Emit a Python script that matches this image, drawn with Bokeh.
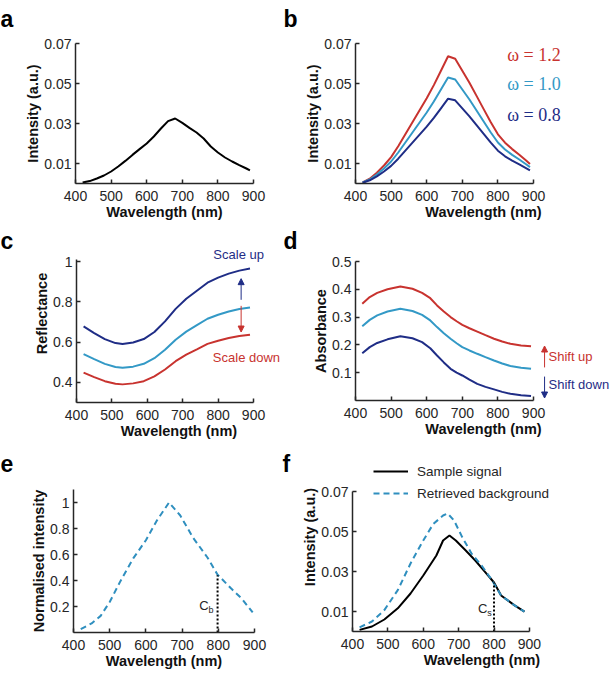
from bokeh.plotting import figure
from bokeh.layouts import column, row
from bokeh.models import FixedTicker, Label, Arrow, NormalHead, Legend, LegendItem, Range1d
from bokeh.embed import file_html
from bokeh.resources import INLINE

# ---------------- data ----------------
x_ticks = [400, 500, 600, 700, 800, 900]
int_ticks = [0.01, 0.03, 0.05, 0.07]
int_labels = ["0.01", "0.03", "0.05", "0.07"]
refl_ticks = [0.4, 0.6, 0.8, 1.0]
refl_labels = ["0.4", "0.6", "0.8", "1"]
abs_ticks = [0.1, 0.2, 0.3, 0.4, 0.5]
abs_labels = ["0.1", "0.2", "0.3", "0.4", "0.5"]
norm_ticks = [0.2, 0.4, 0.6, 0.8, 1.0]
norm_labels = ["0.2", "0.4", "0.6", "0.8", "1"]
panel_letters = ["a", "b", "c", "d", "e", "f"]

# (a) single intensity spectrum
wl_a = [420, 440, 460, 480, 500, 520, 540, 560, 580, 600, 620, 640, 660, 680,
        700, 720, 740, 760, 780, 800, 820, 840, 860, 880, 890]
int_a = [0.0005, 0.0012, 0.0025, 0.0040, 0.0060, 0.0085, 0.0113, 0.0143, 0.0172,
         0.0200, 0.0235, 0.0275, 0.0312, 0.0325, 0.0303, 0.0278, 0.0255, 0.0225,
         0.0185, 0.0155, 0.0130, 0.0110, 0.0092, 0.0075, 0.0066]

# (b) spectra for three omega values
wl_b = [420, 440, 460, 480, 500, 520, 540, 560, 580, 600, 620, 640, 660, 680,
        700, 720, 740, 760, 780, 800, 820, 840, 860, 880, 890]
int_w12 = [0.0006, 0.0024, 0.0054, 0.0090, 0.0132, 0.0186, 0.0246, 0.0306, 0.0366,
           0.0426, 0.0492, 0.0564, 0.0636, 0.0624, 0.0564, 0.0504, 0.0438, 0.0372,
           0.0306, 0.0246, 0.0204, 0.0172, 0.0144, 0.0114, 0.0098]
int_w10 = [0.0005, 0.0020, 0.0045, 0.0075, 0.0110, 0.0155, 0.0205, 0.0255, 0.0305,
           0.0355, 0.0410, 0.0470, 0.0530, 0.0520, 0.0470, 0.0420, 0.0365, 0.0310,
           0.0255, 0.0205, 0.0170, 0.0143, 0.0120, 0.0095, 0.0082]
int_w08 = [0.0004, 0.0016, 0.0036, 0.0060, 0.0088, 0.0124, 0.0164, 0.0204, 0.0244,
           0.0284, 0.0328, 0.0376, 0.0424, 0.0416, 0.0376, 0.0336, 0.0292, 0.0248,
           0.0204, 0.0164, 0.0136, 0.0114, 0.0096, 0.0076, 0.0066]
omega_labels = ["\u03c9 = 1.2", "\u03c9 = 1.0", "\u03c9 = 0.8"]

# (c) reflectance, scaled
wl_c = [420, 450, 480, 510, 530, 560, 590, 620, 650, 680, 710, 740, 770, 800, 830, 860, 890]
refl_up = [0.678, 0.645, 0.615, 0.595, 0.590, 0.598, 0.615, 0.650, 0.703, 0.765,
           0.815, 0.855, 0.895, 0.920, 0.940, 0.955, 0.965]
refl_mid = [0.540, 0.515, 0.492, 0.476, 0.472, 0.478, 0.492, 0.520, 0.562, 0.612,
            0.652, 0.684, 0.716, 0.736, 0.752, 0.764, 0.772]
refl_down = [0.448, 0.426, 0.406, 0.393, 0.390, 0.395, 0.406, 0.430, 0.464, 0.505,
             0.538, 0.564, 0.591, 0.607, 0.620, 0.630, 0.637]

# (d) absorbance, shifted
wl_d = [419, 440, 461, 490, 526, 560, 587, 610, 629, 648, 667, 684, 700, 720, 742,
        765, 789, 812, 835, 865, 893]
abs_up = [0.348, 0.372, 0.387, 0.400, 0.410, 0.402, 0.387, 0.368, 0.342, 0.320, 0.300,
          0.285, 0.272, 0.260, 0.248, 0.235, 0.222, 0.212, 0.204, 0.198, 0.195]
abs_mid = [0.267, 0.290, 0.306, 0.320, 0.330, 0.322, 0.308, 0.288, 0.264, 0.242, 0.222,
           0.206, 0.192, 0.180, 0.168, 0.156, 0.144, 0.133, 0.124, 0.118, 0.114]
abs_down = [0.170, 0.192, 0.207, 0.220, 0.231, 0.224, 0.210, 0.188, 0.162, 0.137, 0.114,
            0.100, 0.090, 0.075, 0.060, 0.049, 0.040, 0.031, 0.024, 0.019, 0.016]

# (e) normalised background
wl_e = [420, 450, 475, 500, 530, 565, 600, 630, 664, 695, 730, 770, 798, 835, 865, 895]
norm_e = [0.026, 0.070, 0.128, 0.235, 0.397, 0.570, 0.710, 0.860, 1.000, 0.900,
          0.730, 0.577, 0.445, 0.340, 0.260, 0.154]
cb_x = [798, 798]
cb_y = [0.0, 0.44]

# (f) sample signal and retrieved background
wl_fs = [420, 455, 490, 528, 564, 600, 637, 656, 674, 692, 720, 747, 775, 800, 820, 857, 886]
sig_f = [0.0008, 0.0025, 0.0060, 0.0116, 0.0190, 0.0280, 0.0380, 0.0455, 0.0480,
         0.0455, 0.0405, 0.0355, 0.0297, 0.0245, 0.0180, 0.0132, 0.0099]
wl_fb = [420, 455, 490, 528, 564, 600, 628, 656, 669, 687, 710, 737, 765, 793, 820, 857, 886]
bg_f = [0.0021, 0.0050, 0.0107, 0.0207, 0.0340, 0.0455, 0.0537, 0.0580, 0.0590,
        0.0555, 0.0472, 0.0388, 0.0330, 0.0260, 0.0180, 0.0132, 0.0099]
cs_x = [800, 800]
cs_y = [0.0, 0.0245]
legend_labels = ["Sample signal", "Retrieved background"]

# ---------------- style ----------------
RED = "#c8332f"
CYAN = "#3399c6"
NAVY = "#1f2d86"
DASHC = "#2f8fbf"
AX = "#262626"
FONT = "Liberation Sans"
LW = 2

ROW_H = [224, 218, 232]
LEFT_W, MID_W = 18, 17
FIG_LW, FIG_RW = 263, 313


def make_fig(w, h, bl, br, bt, bb, xend, yr, ybounds, yticks, ylabels, ylab):
    p = figure(width=w, height=h, x_range=Range1d(400, xend), y_range=Range1d(*yr),
               output_backend="svg", toolbar_location=None, tools="",
               min_border_left=bl, min_border_right=br,
               min_border_top=bt, min_border_bottom=bb, frame_align=False)
    p.outline_line_color = None
    p.xgrid.visible = False
    p.ygrid.visible = False
    for ax in (p.xaxis[0], p.yaxis[0]):
        ax.major_tick_in = 4
        ax.major_tick_out = 0
        ax.minor_tick_line_color = None
        ax.axis_line_width = 1.5
        ax.axis_line_color = AX
        ax.major_tick_line_color = AX
        ax.major_tick_line_width = 1.5
        ax.major_label_text_font = FONT
        ax.major_label_text_font_size = "14px"
        ax.major_label_text_color = AX
        ax.axis_label_text_font = FONT
        ax.axis_label_text_font_style = "bold"
        ax.axis_label_text_font_size = "14.5px"
        ax.axis_label_text_color = "#111111"
        ax.axis_label_standoff = 0
    p.xaxis[0].major_label_standoff = 7
    p.yaxis[0].major_label_standoff = 4
    p.xaxis[0].ticker = FixedTicker(ticks=x_ticks)
    p.xaxis[0].bounds = (400, 900)
    p.xaxis[0].axis_label = "Wavelength (nm)"
    p.yaxis[0].ticker = FixedTicker(ticks=yticks)
    p.yaxis[0].bounds = ybounds
    p.yaxis[0].major_label_overrides = dict(zip(yticks, ylabels))
    p.yaxis[0].axis_label = ylab
    return p


def strip(w, h, text, x, y):
    s = figure(width=w, height=h, x_range=Range1d(0, w), y_range=Range1d(h, 0),
               output_backend="svg", toolbar_location=None, tools="",
               x_axis_type=None, y_axis_type=None, frame_align=False,
               min_border_left=0, min_border_right=0, min_border_top=0, min_border_bottom=0)
    s.outline_line_color = None
    s.xgrid.visible = False
    s.ygrid.visible = False
    s.add_layout(Label(x=x, y=y, text=text, text_font=FONT, text_font_style="bold",
                       text_font_size="23px", text_color="black",
                       text_baseline="alphabetic", text_align="left"))
    return s


def arrow(p, x, y0, y1, col):
    p.add_layout(Arrow(x_start=x, y_start=y0, x_end=x, y_end=y1,
                       line_color=col, line_width=1,
                       end=NormalHead(size=6, fill_color=col, line_color=col)))


def txt(p, x, y, s, col, size="13px", align="left", font=FONT):
    p.add_layout(Label(x=x, y=y, text=s, text_font=font, text_font_size=size,
                       text_color=col, text_align=align, text_baseline="middle"))


# (a)
pa = make_fig(FIG_LW, ROW_H[0], 57, 28, 43, 41, 900, (0, 0.07), (0, 0.07),
              int_ticks, int_labels, "Intensity (a.u.)")
pa.line(wl_a, int_a, line_color="black", line_width=LW)

# (b)
pb = make_fig(FIG_RW, ROW_H[0], 57, 0, 43, 41, 1119, (0, 0.07), (0, 0.07),
              int_ticks, int_labels, "Intensity (a.u.)")
pb.line(wl_b, int_w12, line_color=RED, line_width=LW)
pb.line(wl_b, int_w10, line_color=CYAN, line_width=LW)
pb.line(wl_b, int_w08, line_color=NAVY, line_width=LW)
for s, yv, col in zip(omega_labels, [0.0645, 0.050, 0.0345], [RED, CYAN, NAVY]):
    txt(pb, 826, yv, s, col, size="18px", font="Liberation Serif")

# (c)
pc = make_fig(FIG_LW, ROW_H[1], 58, 0, 0, 40, 979, (0.3, 1.184), (0.3, 1.01),
              refl_ticks, refl_labels, "Reflectance")
pc.line(wl_c, refl_up, line_color=NAVY, line_width=LW)
pc.line(wl_c, refl_mid, line_color=CYAN, line_width=LW)
pc.line(wl_c, refl_down, line_color=RED, line_width=LW)
arrow(pc, 865, 0.81, 0.915, NAVY)
arrow(pc, 865, 0.78, 0.65, RED)
txt(pc, 858, 1.035, "Scale up", NAVY, align="center")
txt(pc, 880, 0.523, "Scale down", RED, align="center")

# (d)
pd_ = make_fig(FIG_RW, ROW_H[1], 57, 0, 37, 42, 1119, (0, 0.5), (0, 0.5),
               abs_ticks, abs_labels, "Absorbance")
pd_.line(wl_d, abs_up, line_color=RED, line_width=LW)
pd_.line(wl_d, abs_mid, line_color=CYAN, line_width=LW)
pd_.line(wl_d, abs_down, line_color=NAVY, line_width=LW)
arrow(pd_, 931, 0.119, 0.196, RED)
arrow(pd_, 931, 0.086, 0.009, NAVY)
txt(pd_, 942, 0.158, "Shift up", RED)
txt(pd_, 942, 0.058, "Shift down", NAVY)

# (e)
pe = make_fig(FIG_LW, ROW_H[2], 55, 27, 47, 42, 900, (0, 1.1), (0, 1.1),
              norm_ticks, norm_labels, "Normalised intensity")
pe.line(wl_e, norm_e, line_color=DASHC, line_width=LW, line_dash="6 4")
pe.line(cb_x, cb_y, line_color="black", line_width=2, line_dash="2 2")
txt(pe, 773, 0.208, "C", AX, align="right")
txt(pe, 773, 0.17, "b", AX, size="9px")

# (f)
pf = make_fig(FIG_RW, ROW_H[2], 54, 0, 0, 43, 1132, (0, 0.0945), (0, 0.07),
              int_ticks, int_labels, "Intensity (a.u.)")
r_sig = pf.line(wl_fs, sig_f, line_color="black", line_width=LW)
r_bg = pf.line(wl_fb, bg_f, line_color=DASHC, line_width=LW, line_dash="6 4")
pf.line(cs_x, cs_y, line_color="black", line_width=2, line_dash="2 2")
txt(pf, 781, 0.0115, "C", AX, align="right")
txt(pf, 781, 0.0093, "s", AX, size="9px")
leg = Legend(items=[LegendItem(label=legend_labels[0], renderers=[r_sig]),
                    LegendItem(label=legend_labels[1], renderers=[r_bg])],
             location=(21, 128), glyph_width=35, glyph_height=20, label_standoff=9,
             spacing=2, padding=0, margin=0, border_line_color=None,
             background_fill_alpha=0, label_text_font=FONT, label_text_font_size="13.5px",
             label_text_color=AX)
pf.add_layout(leg)

# panel letters
la = strip(LEFT_W, ROW_H[0], panel_letters[0], 0, 18)
lb = strip(MID_W, ROW_H[0], panel_letters[1], 2, 18)
lc = strip(LEFT_W, ROW_H[1], panel_letters[2], 0, 16)
ld = strip(MID_W, ROW_H[1], panel_letters[3], 2, 16)
le = strip(LEFT_W, ROW_H[2], panel_letters[4], 0, 21)
lf = strip(MID_W, ROW_H[2], panel_letters[5], 1, 21)

layout = column(row(la, pa, lb, pb), row(lc, pc, ld, pd_), row(le, pe, lf, pf))
open("out.html", "w").write(file_html(layout, INLINE))
